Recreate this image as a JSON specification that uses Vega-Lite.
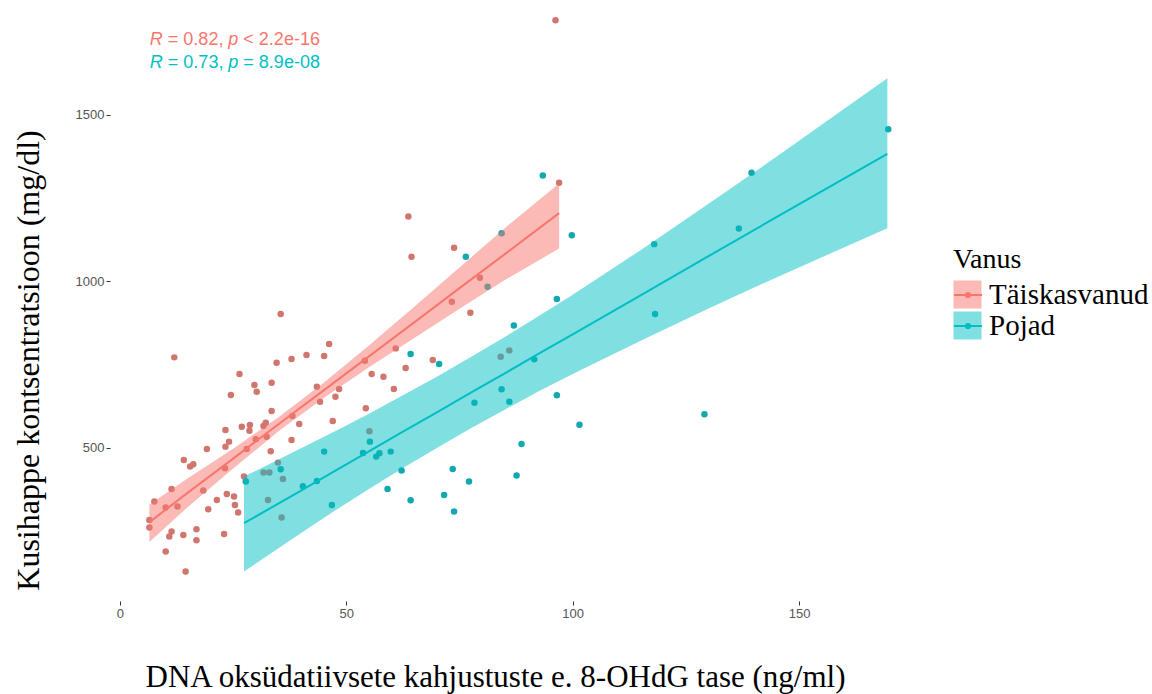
{
  "$schema": "https://vega.github.io/schema/vega-lite/v6.json",
  "width": 819,
  "height": 601,
  "autosize": {"type": "none"},
  "padding": {"left": 110, "top": 0, "right": 223, "bottom": 93},
  "background": "white",
  "config": {
    "view": {"stroke": null},
    "axis": {
      "grid": false,
      "domain": false,
      "tickColor": "#333333",
      "tickSize": 4,
      "labelColor": "#555555",
      "labelFont": "Liberation Sans",
      "labelFontSize": 13,
      "labelPadding": 2,
      "titleFont": "Liberation Serif",
      "titleFontWeight": "normal",
      "titleColor": "#000000"
    }
  },
  "resolve": {"legend": {"fill": "independent", "stroke": "independent"}},
  "datasets": {
    "pts": [
      {"x": 12.0, "y": 772, "Vanus": "Täiskasvanud"},
      {"x": 26.4, "y": 722, "Vanus": "Täiskasvanud"},
      {"x": 34.6, "y": 756, "Vanus": "Täiskasvanud"},
      {"x": 37.9, "y": 767, "Vanus": "Täiskasvanud"},
      {"x": 41.2, "y": 779, "Vanus": "Täiskasvanud"},
      {"x": 45.1, "y": 776, "Vanus": "Täiskasvanud"},
      {"x": 46.2, "y": 812, "Vanus": "Täiskasvanud"},
      {"x": 29.7, "y": 689, "Vanus": "Täiskasvanud"},
      {"x": 30.2, "y": 669, "Vanus": "Täiskasvanud"},
      {"x": 33.5, "y": 696, "Vanus": "Täiskasvanud"},
      {"x": 24.5, "y": 659, "Vanus": "Täiskasvanud"},
      {"x": 43.5, "y": 684, "Vanus": "Täiskasvanud"},
      {"x": 48.4, "y": 677, "Vanus": "Täiskasvanud"},
      {"x": 47.6, "y": 654, "Vanus": "Täiskasvanud"},
      {"x": 44.2, "y": 639, "Vanus": "Täiskasvanud"},
      {"x": 54.3, "y": 619, "Vanus": "Täiskasvanud"},
      {"x": 33.5, "y": 611, "Vanus": "Täiskasvanud"},
      {"x": 38.1, "y": 596, "Vanus": "Täiskasvanud"},
      {"x": 47.0, "y": 581, "Vanus": "Täiskasvanud"},
      {"x": 39.6, "y": 572, "Vanus": "Täiskasvanud"},
      {"x": 23.3, "y": 554, "Vanus": "Täiskasvanud"},
      {"x": 26.9, "y": 564, "Vanus": "Täiskasvanud"},
      {"x": 28.7, "y": 569, "Vanus": "Täiskasvanud"},
      {"x": 28.6, "y": 552, "Vanus": "Täiskasvanud"},
      {"x": 31.7, "y": 566, "Vanus": "Täiskasvanud"},
      {"x": 32.2, "y": 576, "Vanus": "Täiskasvanud"},
      {"x": 32.4, "y": 534, "Vanus": "Täiskasvanud"},
      {"x": 30.0, "y": 526, "Vanus": "Täiskasvanud"},
      {"x": 24.1, "y": 519, "Vanus": "Täiskasvanud"},
      {"x": 23.3, "y": 504, "Vanus": "Täiskasvanud"},
      {"x": 19.2, "y": 497, "Vanus": "Täiskasvanud"},
      {"x": 28.0, "y": 497, "Vanus": "Täiskasvanud"},
      {"x": 37.9, "y": 524, "Vanus": "Täiskasvanud"},
      {"x": 33.3, "y": 490, "Vanus": "Täiskasvanud"},
      {"x": 14.1, "y": 464, "Vanus": "Täiskasvanud"},
      {"x": 15.5, "y": 444, "Vanus": "Täiskasvanud"},
      {"x": 16.2, "y": 451, "Vanus": "Täiskasvanud"},
      {"x": 23.2, "y": 439, "Vanus": "Täiskasvanud"},
      {"x": 11.4, "y": 377, "Vanus": "Täiskasvanud"},
      {"x": 7.6, "y": 339, "Vanus": "Täiskasvanud"},
      {"x": 10.1, "y": 321, "Vanus": "Täiskasvanud"},
      {"x": 12.7, "y": 324, "Vanus": "Täiskasvanud"},
      {"x": 6.5, "y": 284, "Vanus": "Täiskasvanud"},
      {"x": 6.5, "y": 261, "Vanus": "Täiskasvanud"},
      {"x": 23.6, "y": 362, "Vanus": "Täiskasvanud"},
      {"x": 25.2, "y": 354, "Vanus": "Täiskasvanud"},
      {"x": 21.4, "y": 344, "Vanus": "Täiskasvanud"},
      {"x": 19.5, "y": 316, "Vanus": "Täiskasvanud"},
      {"x": 25.4, "y": 329, "Vanus": "Täiskasvanud"},
      {"x": 26.1, "y": 306, "Vanus": "Täiskasvanud"},
      {"x": 11.4, "y": 249, "Vanus": "Täiskasvanud"},
      {"x": 10.9, "y": 234, "Vanus": "Täiskasvanud"},
      {"x": 14.0, "y": 239, "Vanus": "Täiskasvanud"},
      {"x": 16.9, "y": 256, "Vanus": "Täiskasvanud"},
      {"x": 16.9, "y": 223, "Vanus": "Täiskasvanud"},
      {"x": 23.0, "y": 242, "Vanus": "Täiskasvanud"},
      {"x": 10.1, "y": 189, "Vanus": "Täiskasvanud"},
      {"x": 14.5, "y": 129, "Vanus": "Täiskasvanud"},
      {"x": 27.4, "y": 414, "Vanus": "Täiskasvanud"},
      {"x": 31.7, "y": 426, "Vanus": "Täiskasvanud"},
      {"x": 33.0, "y": 426, "Vanus": "Täiskasvanud"},
      {"x": 36.0, "y": 407, "Vanus": "Täiskasvanud"},
      {"x": 32.7, "y": 344, "Vanus": "Täiskasvanud"},
      {"x": 35.7, "y": 291, "Vanus": "Täiskasvanud"},
      {"x": 34.9, "y": 456, "Vanus": "Täiskasvanud"},
      {"x": 55.1, "y": 550, "Vanus": "Täiskasvanud"},
      {"x": 35.5, "y": 902, "Vanus": "Täiskasvanud"},
      {"x": 54.1, "y": 762, "Vanus": "Täiskasvanud"},
      {"x": 60.9, "y": 799, "Vanus": "Täiskasvanud"},
      {"x": 73.3, "y": 939, "Vanus": "Täiskasvanud"},
      {"x": 77.4, "y": 906, "Vanus": "Täiskasvanud"},
      {"x": 55.6, "y": 722, "Vanus": "Täiskasvanud"},
      {"x": 58.2, "y": 714, "Vanus": "Täiskasvanud"},
      {"x": 63.1, "y": 740, "Vanus": "Täiskasvanud"},
      {"x": 60.5, "y": 677, "Vanus": "Täiskasvanud"},
      {"x": 69.1, "y": 764, "Vanus": "Täiskasvanud"},
      {"x": 84.1, "y": 774, "Vanus": "Täiskasvanud"},
      {"x": 86.0, "y": 793, "Vanus": "Täiskasvanud"},
      {"x": 63.7, "y": 1195, "Vanus": "Täiskasvanud"},
      {"x": 64.4, "y": 1074, "Vanus": "Täiskasvanud"},
      {"x": 73.8, "y": 1101, "Vanus": "Täiskasvanud"},
      {"x": 97.0, "y": 1296, "Vanus": "Täiskasvanud"},
      {"x": 79.5, "y": 1011, "Vanus": "Täiskasvanud"},
      {"x": 96.2, "y": 1784, "Vanus": "Täiskasvanud"},
      {"x": 18.4, "y": 372, "Vanus": "Täiskasvanud"},
      {"x": 27.8, "y": 399, "Vanus": "Pojad"},
      {"x": 35.5, "y": 436, "Vanus": "Pojad"},
      {"x": 40.4, "y": 385, "Vanus": "Pojad"},
      {"x": 43.5, "y": 401, "Vanus": "Pojad"},
      {"x": 45.1, "y": 489, "Vanus": "Pojad"},
      {"x": 46.8, "y": 329, "Vanus": "Pojad"},
      {"x": 53.7, "y": 485, "Vanus": "Pojad"},
      {"x": 55.2, "y": 519, "Vanus": "Pojad"},
      {"x": 56.6, "y": 474, "Vanus": "Pojad"},
      {"x": 57.3, "y": 484, "Vanus": "Pojad"},
      {"x": 59.8, "y": 489, "Vanus": "Pojad"},
      {"x": 62.2, "y": 432, "Vanus": "Pojad"},
      {"x": 59.1, "y": 377, "Vanus": "Pojad"},
      {"x": 64.2, "y": 343, "Vanus": "Pojad"},
      {"x": 71.6, "y": 359, "Vanus": "Pojad"},
      {"x": 73.5, "y": 437, "Vanus": "Pojad"},
      {"x": 73.8, "y": 309, "Vanus": "Pojad"},
      {"x": 77.1, "y": 399, "Vanus": "Pojad"},
      {"x": 78.3, "y": 636, "Vanus": "Pojad"},
      {"x": 84.3, "y": 676, "Vanus": "Pojad"},
      {"x": 86.0, "y": 639, "Vanus": "Pojad"},
      {"x": 91.5, "y": 766, "Vanus": "Pojad"},
      {"x": 96.5, "y": 658, "Vanus": "Pojad"},
      {"x": 101.5, "y": 570, "Vanus": "Pojad"},
      {"x": 88.7, "y": 512, "Vanus": "Pojad"},
      {"x": 87.6, "y": 417, "Vanus": "Pojad"},
      {"x": 64.2, "y": 782, "Vanus": "Pojad"},
      {"x": 70.5, "y": 752, "Vanus": "Pojad"},
      {"x": 87.0, "y": 868, "Vanus": "Pojad"},
      {"x": 96.5, "y": 947, "Vanus": "Pojad"},
      {"x": 76.4, "y": 1074, "Vanus": "Pojad"},
      {"x": 93.4, "y": 1318, "Vanus": "Pojad"},
      {"x": 84.3, "y": 1145, "Vanus": "Pojad"},
      {"x": 99.8, "y": 1139, "Vanus": "Pojad"},
      {"x": 81.2, "y": 984, "Vanus": "Pojad"},
      {"x": 118.0, "y": 1112, "Vanus": "Pojad"},
      {"x": 139.5, "y": 1326, "Vanus": "Pojad"},
      {"x": 136.7, "y": 1159, "Vanus": "Pojad"},
      {"x": 169.7, "y": 1457, "Vanus": "Pojad"},
      {"x": 118.2, "y": 902, "Vanus": "Pojad"},
      {"x": 129.1, "y": 601, "Vanus": "Pojad"}
    ],
    "band": [
      {"x": 6.5, "lo": 218, "hi": 330, "fit": 277, "Vanus": "Täiskasvanud"},
      {"x": 15, "lo": 323, "hi": 409, "fit": 366, "Vanus": "Täiskasvanud"},
      {"x": 25, "lo": 438, "hi": 498, "fit": 468, "Vanus": "Täiskasvanud"},
      {"x": 35, "lo": 550, "hi": 592, "fit": 571, "Vanus": "Täiskasvanud"},
      {"x": 45, "lo": 650, "hi": 696, "fit": 673, "Vanus": "Täiskasvanud"},
      {"x": 55, "lo": 742, "hi": 808, "fit": 775, "Vanus": "Täiskasvanud"},
      {"x": 65, "lo": 830, "hi": 924, "fit": 877, "Vanus": "Täiskasvanud"},
      {"x": 75, "lo": 918, "hi": 1042, "fit": 980, "Vanus": "Täiskasvanud"},
      {"x": 85, "lo": 1004, "hi": 1160, "fit": 1082, "Vanus": "Täiskasvanud"},
      {"x": 97, "lo": 1099, "hi": 1294, "fit": 1205, "Vanus": "Täiskasvanud"},
      {"x": 27.4, "lo": 129, "hi": 414, "fit": 274, "Vanus": "Pojad"},
      {"x": 40, "lo": 245, "hi": 499, "fit": 372, "Vanus": "Pojad"},
      {"x": 47.5, "lo": 312, "hi": 550, "fit": 431, "Vanus": "Pojad"},
      {"x": 55, "lo": 377, "hi": 603, "fit": 490, "Vanus": "Pojad"},
      {"x": 62.5, "lo": 440, "hi": 658, "fit": 549, "Vanus": "Pojad"},
      {"x": 70, "lo": 500, "hi": 714, "fit": 607, "Vanus": "Pojad"},
      {"x": 77.5, "lo": 559, "hi": 773, "fit": 666, "Vanus": "Pojad"},
      {"x": 85, "lo": 615, "hi": 833, "fit": 724, "Vanus": "Pojad"},
      {"x": 92.5, "lo": 670, "hi": 896, "fit": 783, "Vanus": "Pojad"},
      {"x": 100, "lo": 722, "hi": 960, "fit": 841, "Vanus": "Pojad"},
      {"x": 115, "lo": 822, "hi": 1094, "fit": 958, "Vanus": "Pojad"},
      {"x": 130, "lo": 919, "hi": 1233, "fit": 1076, "Vanus": "Pojad"},
      {"x": 145, "lo": 1012, "hi": 1374, "fit": 1193, "Vanus": "Pojad"},
      {"x": 169.5, "lo": 1160, "hi": 1610, "fit": 1383, "Vanus": "Pojad"}
    ],
    "ann": [
      {"x": 6.6, "y": 1725, "Vanus": "Täiskasvanud", "r": "R", "mid": "= 0.82,", "p": "p", "rest": "< 2.2e-16"},
      {"x": 6.6, "y": 1657, "Vanus": "Pojad", "r": "R", "mid": "= 0.73,", "p": "p", "rest": "= 8.9e-08"}
    ]
  },
  "layer": [
    {
      "data": {"name": "pts"},
      "mark": {"type": "circle", "size": 42, "opacity": 1},
      "encoding": {
        "x": {
          "field": "x", "type": "quantitative",
          "scale": {"domain": [-2.2, 178.7], "nice": false, "zero": false},
          "axis": {"values": [0, 50, 100, 150], "format": "d", "titleFontSize": 31, "titleX": 385, "titleY": 76, "titleBaseline": "middle"},
          "title": "DNA oksüdatiivsete kahjustuste e. 8-OHdG tase (ng/ml)"
        },
        "y": {
          "field": "y", "type": "quantitative",
          "scale": {"domain": [40.5, 1845], "nice": false, "zero": false},
          "axis": {"values": [500, 1000, 1500], "format": "d", "titleFontSize": 32, "titleX": -82, "titleY": 360, "titleBaseline": "middle"},
          "title": "Kusihappe kontsentratsioon (mg/dl)"
        },
        "color": {
          "field": "Vanus", "type": "nominal",
          "scale": {"domain": ["Täiskasvanud", "Pojad"], "range": ["#D0766E", "#12A9AE"]},
          "legend": null
        }
      }
    },
    {
      "data": {"name": "band"},
      "mark": {"type": "area", "fillOpacity": 0.5},
      "encoding": {
        "x": {"field": "x", "type": "quantitative", "title": "DNA oksüdatiivsete kahjustuste e. 8-OHdG tase (ng/ml)"},
        "y": {"field": "lo", "type": "quantitative", "title": "Kusihappe kontsentratsioon (mg/dl)"},
        "y2": {"field": "hi"},
        "fill": {
          "field": "Vanus", "type": "nominal",
          "scale": {"domain": ["Täiskasvanud", "Pojad"], "range": ["#F8766D", "#00BFC4"]},
          "legend": {
            "orient": "none", "legendX": 843, "legendY": 246, "padding": 0,
            "title": "Vanus", "titleFont": "Liberation Serif", "titleFontSize": 28, "titleFontWeight": "normal", "titleColor": "#000000", "titlePadding": 6,
            "labelFont": "Liberation Serif", "labelFontSize": 29, "labelColor": "#000000", "labelOffset": 7,
            "symbolType": "square", "symbolSize": 784, "symbolOpacity": 0.5, "symbolStrokeWidth": 0, "rowPadding": 1
          }
        }
      }
    },
    {
      "data": {"name": "band"},
      "mark": {"type": "line", "strokeWidth": 2},
      "encoding": {
        "x": {"field": "x", "type": "quantitative", "title": "DNA oksüdatiivsete kahjustuste e. 8-OHdG tase (ng/ml)"},
        "y": {"field": "fit", "type": "quantitative", "title": "Kusihappe kontsentratsioon (mg/dl)"},
        "stroke": {
          "field": "Vanus", "type": "nominal",
          "scale": {"domain": ["Täiskasvanud", "Pojad"], "range": ["#F8766D", "#00BFC4"]},
          "legend": {
            "orient": "right", "offset": 24, "padding": 0,
            "title": " ", "titleFont": "Liberation Serif", "titleFontSize": 28, "titleFontWeight": "normal", "titleOpacity": 0, "titlePadding": 252,
            "labelFont": "Liberation Serif", "labelFontSize": 29, "labelOpacity": 0, "labelOffset": 7,
            "symbolType": "M-1,0H1M-0.15,0A0.15,0.15 0 1,0 0.15,0A0.15,0.15 0 1,0 -0.15,0",
            "symbolSize": 784, "symbolStrokeWidth": 2, "symbolFillColor": "transparent", "rowPadding": 1
          }
        }
      }
    },
    {
      "data": {"name": "ann"},
      "mark": {"type": "text", "align": "left", "baseline": "middle", "font": "Liberation Sans", "fontSize": 18, "fontStyle": "italic", "dx": 0},
      "encoding": {
        "x": {"field": "x", "type": "quantitative"},
        "y": {"field": "y", "type": "quantitative"},
        "text": {"field": "r"},
        "fill": {"field": "Vanus", "type": "nominal", "legend": null}
      }
    },
    {
      "data": {"name": "ann"},
      "mark": {"type": "text", "align": "left", "baseline": "middle", "font": "Liberation Sans", "fontSize": 18, "dx": 18},
      "encoding": {
        "x": {"field": "x", "type": "quantitative"},
        "y": {"field": "y", "type": "quantitative"},
        "text": {"field": "mid"},
        "fill": {"field": "Vanus", "type": "nominal", "legend": null}
      }
    },
    {
      "data": {"name": "ann"},
      "mark": {"type": "text", "align": "left", "baseline": "middle", "font": "Liberation Sans", "fontSize": 18, "fontStyle": "italic", "dx": 78.5},
      "encoding": {
        "x": {"field": "x", "type": "quantitative"},
        "y": {"field": "y", "type": "quantitative"},
        "text": {"field": "p"},
        "fill": {"field": "Vanus", "type": "nominal", "legend": null}
      }
    },
    {
      "data": {"name": "ann"},
      "mark": {"type": "text", "align": "left", "baseline": "middle", "font": "Liberation Sans", "fontSize": 18, "dx": 93.5},
      "encoding": {
        "x": {"field": "x", "type": "quantitative"},
        "y": {"field": "y", "type": "quantitative"},
        "text": {"field": "rest"},
        "fill": {"field": "Vanus", "type": "nominal", "legend": null}
      }
    }
  ]
}
